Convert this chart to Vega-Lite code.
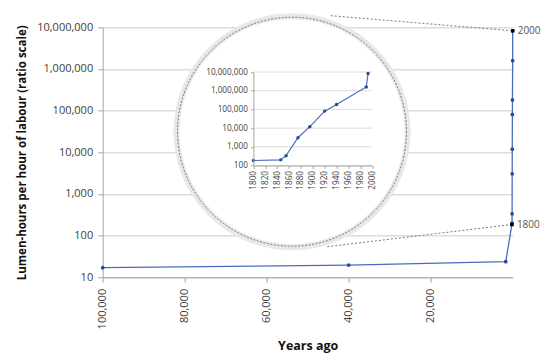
{
  "$schema": "https://vega.github.io/schema/vega-lite/v6.json",
  "width": 410,
  "height": 250,
  "autosize": "none",
  "padding": {"left": 102.7, "top": 27.3, "right": 33.3, "bottom": 83.7},
  "background": "white",
  "config": {
    "view": {"stroke": null},
    "font": "Open Sans",
    "axis": {"labelFont": "Open Sans", "titleFont": "Open Sans", "labelColor": "#404040", "titleColor": "#111111", "domainColor": "#a6a6a6", "tickColor": "#a6a6a6"}
  },
  "datasets": {
    "main": [
      {"yearsAgo": 100000, "lumen": 17},
      {"yearsAgo": 40000, "lumen": 19.7},
      {"yearsAgo": 1700, "lumen": 23.7},
      {"yearsAgo": 200, "lumen": 185},
      {"yearsAgo": 154, "lumen": 200},
      {"yearsAgo": 145, "lumen": 335},
      {"yearsAgo": 125, "lumen": 3050},
      {"yearsAgo": 105, "lumen": 11900},
      {"yearsAgo": 80, "lumen": 81000},
      {"yearsAgo": 60, "lumen": 181000},
      {"yearsAgo": 10, "lumen": 1580000},
      {"yearsAgo": 7, "lumen": 8250000}
    ],
    "modern": [
      {"year": 1800, "lumen": 185},
      {"year": 1846, "lumen": 200},
      {"year": 1855, "lumen": 335},
      {"year": 1875, "lumen": 3050},
      {"year": 1895, "lumen": 11900},
      {"year": 1920, "lumen": 81000},
      {"year": 1940, "lumen": 181000},
      {"year": 1990, "lumen": 1580000},
      {"year": 1993, "lumen": 8250000}
    ],
    "ends": [
      {"yearsAgo": 200, "lumen": 185, "label": "1800"},
      {"yearsAgo": 7, "lumen": 8250000, "label": "2000"}
    ],
    "connectors": [
      {"seg": "top", "yearsAgo": 44370, "lumen": 18970000},
      {"seg": "top", "yearsAgo": 7, "lumen": 8250000},
      {"seg": "bottom", "yearsAgo": 45220, "lumen": 54.2},
      {"seg": "bottom", "yearsAgo": 200, "lumen": 185}
    ],
    "lens": [
      {"yearsAgo": 53830, "lumen": 31200}
    ],
    "insetGrid": [
      {"lumen": 100}, {"lumen": 1000}, {"lumen": 10000}, {"lumen": 100000}, {"lumen": 1000000}, {"lumen": 10000000}
    ]
  },
  "layer": [
    {
      "layer": [
        {
          "data": {"name": "main"},
          "mark": {"type": "line", "color": "#4a6cc0", "strokeWidth": 1.3},
          "encoding": {
            "x": {
              "field": "yearsAgo", "type": "quantitative",
              "scale": {"domain": [0, 100000], "reverse": true, "nice": false, "zero": false},
              "axis": {
                "orient": "bottom", "title": "Years ago", "values": [100000, 80000, 60000, 40000, 20000],
                "labelExpr": "format(datum.value, ',')", "labelAngle": -90, "labelFontSize": 11, "tickSize": 5, "labelPadding": 6,
                "titleFontSize": 12.5, "titleFontWeight": "bold", "titlePadding": 11, "grid": false
              }
            },
            "y": {
              "field": "lumen", "type": "quantitative",
              "scale": {"type": "log", "domain": [10, 10000000], "nice": false},
              "axis": {
                "orient": "left", "title": "Lumen-hours per hour of labour (ratio scale)",
                "values": [10, 100, 1000, 10000, 100000, 1000000, 10000000], "labelExpr": "format(datum.value, ',')",
                "labelFontSize": 11, "tickSize": 5, "labelPadding": 5,
                "titleFontSize": 11.5, "titleFontWeight": "bold", "titlePadding": 9,
                "grid": true, "gridColor": "#dcdcdc", "gridWidth": 1.5
              }
            }
          }
        },
        {
          "data": {"name": "main"},
          "mark": {"type": "circle", "color": "#2a4a9a", "size": 14, "opacity": 1},
          "encoding": {
            "x": {"field": "yearsAgo", "type": "quantitative"},
            "y": {"field": "lumen", "type": "quantitative"}
          }
        },
        {
          "data": {"name": "connectors"},
          "mark": {"type": "line", "color": "#777777", "strokeWidth": 1, "strokeDash": [2, 2]},
          "encoding": {
            "x": {"field": "yearsAgo", "type": "quantitative"},
            "y": {"field": "lumen", "type": "quantitative"},
            "detail": {"field": "seg"}
          }
        },
        {
          "data": {"name": "ends"},
          "mark": {"type": "square", "color": "#000000", "size": 12, "opacity": 1},
          "encoding": {
            "x": {"field": "yearsAgo", "type": "quantitative"},
            "y": {"field": "lumen", "type": "quantitative"}
          }
        },
        {
          "data": {"name": "ends"},
          "mark": {"type": "text", "align": "left", "baseline": "middle", "dx": 5, "fontSize": 10, "color": "#555555"},
          "encoding": {
            "x": {"field": "yearsAgo", "type": "quantitative"},
            "y": {"field": "lumen", "type": "quantitative"},
            "text": {"field": "label"}
          }
        },
        {
          "data": {"name": "lens"},
          "mark": {"type": "point", "shape": "circle", "filled": true, "fill": "#ffffff", "stroke": "#e8e8e8", "strokeWidth": 6, "size": 53361, "opacity": 1, "fillOpacity": 1, "strokeOpacity": 1},
          "encoding": {
            "x": {"field": "yearsAgo", "type": "quantitative"},
            "y": {"field": "lumen", "type": "quantitative"}
          }
        },
        {
          "data": {"name": "lens"},
          "mark": {"type": "point", "shape": "circle", "filled": false, "stroke": "#6a6a6a", "strokeWidth": 0.9, "strokeDash": [2, 1.5], "size": 52441, "opacity": 1},
          "encoding": {
            "x": {"field": "yearsAgo", "type": "quantitative"},
            "y": {"field": "lumen", "type": "quantitative"}
          }
        }
      ]
    },
    {
      "layer": [
        {
          "data": {"name": "insetGrid"},
          "mark": {"type": "rule", "color": "#dcdcdc", "strokeWidth": 1},
          "encoding": {
            "y": {
              "field": "lumen", "type": "quantitative",
              "scale": {"type": "log", "domain": [100, 10000000], "range": [138.2, 44.7], "nice": false},
              "axis": {
                "orient": "left", "offset": -150.7, "title": null,
                "values": [100, 1000, 10000, 100000, 1000000, 10000000], "labelExpr": "format(datum.value, ',')",
                "labelFontSize": 8.2, "tickSize": 3, "labelPadding": 3, "grid": false, "zindex": 1
              }
            },
            "x": {
              "datum": 1800, "type": "quantitative",
              "scale": {"domain": [1800, 2000], "range": [150.7, 269.5], "nice": false, "zero": false},
              "axis": {
                "orient": "bottom", "offset": -111.8, "title": null,
                "values": [1800, 1820, 1840, 1860, 1880, 1900, 1920, 1940, 1960, 1980, 2000], "labelExpr": "format(datum.value, 'd')",
                "labelAngle": -90, "labelFontSize": 8.2, "tickSize": 3, "labelPadding": 2, "grid": false, "zindex": 1
              }
            },
            "x2": {"datum": 2000}
          }
        },
        {
          "data": {"name": "modern"},
          "mark": {"type": "line", "color": "#4a6cc0", "strokeWidth": 1.2},
          "encoding": {
            "x": {"field": "year", "type": "quantitative"},
            "y": {"field": "lumen", "type": "quantitative"}
          }
        },
        {
          "data": {"name": "modern"},
          "mark": {"type": "circle", "color": "#2a4a9a", "size": 12, "opacity": 1},
          "encoding": {
            "x": {"field": "year", "type": "quantitative"},
            "y": {"field": "lumen", "type": "quantitative"}
          }
        }
      ]
    }
  ],
  "resolve": {"scale": {"x": "independent", "y": "independent"}}
}
